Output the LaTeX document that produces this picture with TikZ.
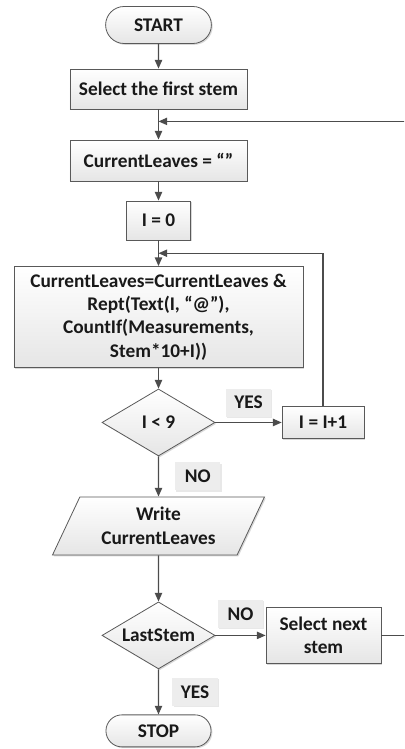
\documentclass[tikz,border=0pt]{standalone}
\usepackage{fontspec}
\setmainfont{Carlito}
\usetikzlibrary{shapes.geometric,shapes.misc,shadows,arrows.meta,calc}

\tikzset{
  base/.style={draw=black!65, line width=0.6pt, top color=white, bottom color=black!10,
    text=black!90, font=\fontsize{14.5}{17.5}\selectfont\bfseries, align=center,
    drop shadow={shadow xshift=1pt, shadow yshift=-1pt, fill=black!30, opacity=0.5}},
  term/.style={base, rounded rectangle},
  process/.style={base, rectangle, inner sep=2pt},
  decision/.style={base, diamond, aspect=1.7, inner sep=0pt,
    minimum width=84.75pt, minimum height=50.25pt},
  io/.style={base, trapezium, trapezium left angle=65, trapezium right angle=115,
    trapezium stretches=true, minimum width=159pt, minimum height=43.5pt},
  lbl/.style={fill=black!7, text=black!90, font=\fontsize{14.5}{16}\selectfont\bfseries,
    minimum width=34pt, minimum height=21pt, inner sep=1pt,
    drop shadow={shadow xshift=0.8pt, shadow yshift=-0.8pt, fill=black!15, opacity=0.6}},
  flow/.style={draw=black!70, line width=0.9pt, ->}
}

\begin{document}
\begin{tikzpicture}[node distance=48pt, >={Triangle[length=6.5pt,width=5.5pt]}]
    \node[term, minimum width=86pt, minimum height=27.75pt] (start) {START};
    \coordinate (tl) at ($(start.center)+(-118.875pt,18.75pt)$);
    \coordinate (br) at ($(start.center)+(184.125pt,-543pt)$);
    \useasboundingbox (tl) rectangle (br);

    \node[process, minimum width=132.75pt, minimum height=30pt, below of=start] (first) {Select the first stem};
    \node[process, minimum width=132.75pt, minimum height=30.75pt, below of=first, node distance=53.6pt] (empty) {CurrentLeaves = “”};
    \node[process, minimum width=48pt, minimum height=29.25pt, below of=empty, node distance=45pt] (izero) {I = 0};
    \node[process, minimum width=216.75pt, minimum height=75.75pt, below of=izero, node distance=72.4pt] (update)
      {CurrentLeaves=CurrentLeaves \&\\ Rept(Text(I, “@”),\\ CountIf(Measurements,\\ Stem*10+I))};
    \node[decision, below of=update, node distance=79.1pt] (testi) {I < 9};
    \node[process, minimum width=61.5pt, minimum height=24pt, right of=testi, node distance=123.4pt] (incr) {I = I+1};
    \node[io, below of=testi, node distance=77.6pt] (write) {Write\\CurrentLeaves};
    \node[decision, below of=write, node distance=82.1pt] (last) {LastStem};
    \node[process, minimum width=86.25pt, minimum height=42pt, right of=last, node distance=123.75pt] (next) {Select next\\stem};
    \node[term, minimum width=85.5pt, minimum height=24pt, below of=last, node distance=71.6pt] (stop) {STOP};

    \coordinate (join1) at ($(first.south)+(0,-9pt)$);
    \coordinate (join2) at ($(izero.south)!0.5!(update.north)$);
    \coordinate (rside) at ($(next.east)+(20pt,0)$);

    \draw[flow] (start) -- (first);
    \draw[flow] (first) -- (empty);
    \draw[flow] (empty) -- (izero);
    \draw[flow] (izero) -- (update);
    \draw[flow] (update) -- (testi);
    \draw[flow] (testi) -- node[lbl, above=4pt] {YES} (incr);
    \draw[flow] (incr) |- (join2);
    \draw[flow] (testi) -- node[lbl, right=12pt] {NO} (write);
    \draw[flow] (write) -- (last);
    \draw[flow] (last) -- node[lbl, above=5pt] {NO} (next);
    \draw[flow] (last) -- node[lbl, right=10pt] {YES} (stop);
    \begin{scope}
      \clip (tl) rectangle (br);
      \draw[flow] (next) -- (rside) |- (join1);
    \end{scope}
  \end{tikzpicture}
\end{document}
